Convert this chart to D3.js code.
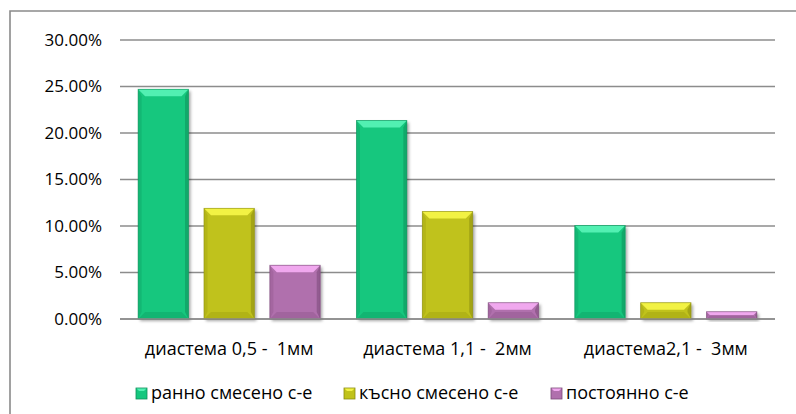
<!DOCTYPE html>
<html><head><meta charset="utf-8">
<script src="https://cdn.jsdelivr.net/npm/d3@7"></script>
<style>
html,body{margin:0;padding:0;background:#fff;}
svg text{font-family:"Open Sans","Liberation Sans",sans-serif;fill:#000;white-space:pre;}
</style></head>
<body><svg id="c" width="796" height="414"></svg>
<script>
const categories = ["диастема 0,5 -  1мм", "диастема 1,1 -  2мм", "диастема2,1 -  3мм"];
const seriesNames = ["ранно смесено с-е", "късно смесено с-е", "постоянно с-е"];
const early = [0.247, 0.2135, 0.1005];
const late = [0.119, 0.1155, 0.0175];
const permanent = [0.0578, 0.0175, 0.0078];
const yTicks = [0, 0.05, 0.10, 0.15, 0.20, 0.25, 0.30];
const colors = [
  {base:"#14c77e", light:"#52f0b2", dark:"#0e8f5a", side:"#10a86a"},
  {base:"#c0c21a", light:"#f2f244", dark:"#8a8c10", side:"#a6a812"},
  {base:"#b070ad", light:"#f0a8ee", dark:"#7a4a78", side:"#975c94"}
];
const series = [early, late, permanent];

const svg = d3.select("#c");
const fs = 17, fs2 = 18;
const m = {left:120, right:775, top:40, bottom:319};

svg.append("path").attr("d","M10,414 V11 H796").attr("fill","none").attr("stroke","#8a8a8a").attr("stroke-width",1.6);

const y = d3.scaleLinear().domain([0,0.30]).range([m.bottom, m.top]);
const x0 = d3.scaleBand().domain(categories).range([m.left, m.right]).paddingInner(0.166).paddingOuter(0.083);
const x1 = d3.scaleBand().domain(d3.range(3)).range([0, x0.bandwidth()]).paddingInner(0.235).paddingOuter(0);

svg.append("g").selectAll("line").data(yTicks).join("line")
  .attr("x1", m.left).attr("x2", m.right)
  .attr("y1", d=>y(d)).attr("y2", d=>y(d))
  .attr("stroke","#8c8c8c").attr("stroke-width",1.6);

const yAxis = d3.axisLeft(y).tickValues(yTicks).tickFormat(d=>(d*100).toFixed(2)+"%").tickSize(0).tickPadding(0);
const ga = svg.append("g").attr("transform",`translate(${m.left-18},0)`).call(yAxis);
ga.select(".domain").remove();
ga.selectAll("text").attr("font-size",fs).attr("font-family",null).attr("fill","#000");

const defs = svg.append("defs");
const f = defs.append("filter").attr("id","sh").attr("x","-20%").attr("y","-20%").attr("width","150%").attr("height","150%");
f.append("feDropShadow").attr("dx",2).attr("dy",2).attr("stdDeviation",1.8).attr("flood-color","#000").attr("flood-opacity",0.35);

function bar(g, x, yt, w, yb, c){
  const h = yb - yt;
  const b = Math.min(7, h/2);
  const gg = g.append("g");
  gg.append("rect").attr("x",x).attr("y",yt).attr("width",w).attr("height",h).attr("fill",c.base).attr("filter","url(#sh)");
  gg.append("polygon").attr("points",[[x,yt],[x+w,yt],[x+w-b,yt+b],[x+b,yt+b]].join(" ")).attr("fill",c.light);
  gg.append("polygon").attr("points",[[x,yb],[x+w,yb],[x+w-b,yb-b],[x+b,yb-b]].join(" ")).attr("fill",c.side).attr("opacity",0.6);
  gg.append("polygon").attr("points",[[x,yt],[x+b*0.5,yt+b],[x+b*0.5,yb-b],[x,yb]].join(" ")).attr("fill",c.side).attr("opacity",0.5);
  gg.append("polygon").attr("points",[[x+w,yt],[x+w-b*0.5,yt+b],[x+w-b*0.5,yb-b],[x+w,yb]].join(" ")).attr("fill",c.dark).attr("opacity",0.55);
  gg.append("rect").attr("x",x).attr("y",yt).attr("width",w).attr("height",h).attr("fill","none").attr("stroke",c.dark).attr("stroke-width",0.8).attr("opacity",0.7);
}

const gBars = svg.append("g");
categories.forEach((cat,ci)=>{
  series.forEach((s,si)=>{
    const xx = x0(cat) + x1(si);
    bar(gBars, xx, y(s[ci]), x1.bandwidth(), y(0), colors[si]);
  });
});

svg.append("line").attr("x1",m.left).attr("x2",m.right).attr("y1",y(0)).attr("y2",y(0)).attr("stroke","#8c8c8c").attr("stroke-width",1.6);

svg.append("g").selectAll("text").data(categories).join("text")
  .attr("x", d=>x0(d)+x0.bandwidth()/2).attr("y", 355)
  .attr("text-anchor","middle").attr("font-size",fs2).text(d=>d);

const legX = [136, 344, 551];
const lg = svg.append("g");
seriesNames.forEach((n,i)=>{
  const c = colors[i];
  const sx = legX[i], sy = 388, s = 11;
  lg.append("rect").attr("x",sx).attr("y",sy).attr("width",s).attr("height",s).attr("fill",c.base);
  lg.append("polygon").attr("points",[[sx,sy],[sx+s,sy],[sx+s-3,sy+3],[sx+3,sy+3]].join(" ")).attr("fill",c.light);
  lg.append("rect").attr("x",sx).attr("y",sy).attr("width",s).attr("height",s).attr("fill","none").attr("stroke",c.dark).attr("stroke-width",0.8);
  lg.append("text").attr("x",sx+s+4).attr("y",399).attr("font-size",fs2).text(n);
});
</script></body></html>
